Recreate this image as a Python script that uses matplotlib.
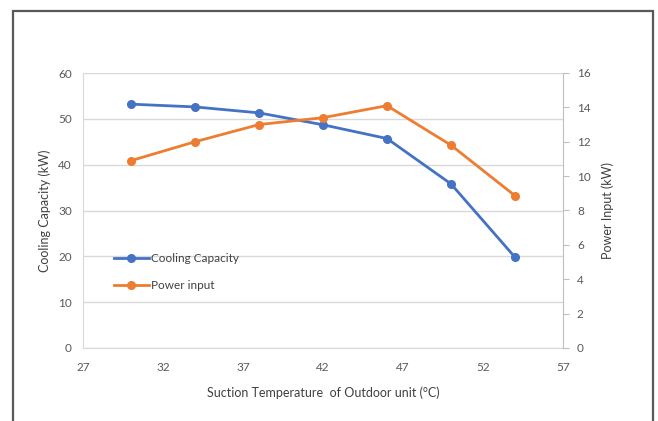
import matplotlib.pyplot as plt
from matplotlib.patches import Rectangle

temps = [30, 34, 38, 42, 46, 50, 54]
cooling_capacity = [53.2, 52.6, 51.3, 48.7, 45.7, 35.8, 19.8]
power_input = [10.9, 12.0, 13.0, 13.4, 14.1, 11.8, 8.86]

x_ticks = [27, 32, 37, 42, 47, 52, 57]
left_ticks = [0, 10, 20, 30, 40, 50, 60]
right_ticks = [0, 2, 4, 6, 8, 10, 12, 14, 16]

blue = "#4472C4"
orange = "#ED7D31"
grey_text = "#595959"
grid_col = "#D9D9D9"

plt.rcParams["font.family"] = ["Lato", "DejaVu Sans"]

fig = plt.figure(figsize=(6.58, 4.21), dpi=100)
ax = fig.add_axes([83 / 658, 1 - 348 / 421, 480 / 658, 275 / 421])
ax2 = ax.twinx()

l1, = ax.plot(temps, cooling_capacity, color=blue, lw=2, marker="o", ms=5.5,
              label="Cooling Capacity")
l2, = ax2.plot(temps, power_input, color=orange, lw=2, marker="o", ms=5.5,
               label="Power input")

ax.set_xlim(27, 57)
ax.set_ylim(0, 60)
ax2.set_ylim(0, 16)
ax.set_xticks(x_ticks)
ax.set_yticks(left_ticks)
ax2.set_yticks(right_ticks)

ax.grid(axis="y", color=grid_col, lw=1)
ax.set_axisbelow(True)

for s in ["top", "right"]:
    ax.spines[s].set_visible(False)
for s in ["top", "left", "bottom"]:
    ax2.spines[s].set_visible(False)
ax.spines["left"].set_color(grid_col)
ax.spines["bottom"].set_color(grid_col)
ax2.spines["right"].set_color("#BFBFBF")

ax.tick_params(axis="both", length=0, colors=grey_text, labelsize=8.5, pad=8)
ax.tick_params(axis="x", pad=10)
ax2.tick_params(axis="y", length=4, color="#BFBFBF", colors=grey_text,
                labelsize=8.5, pad=6)

ax.set_xlabel("Suction Temperature  of Outdoor unit (°C)", color="#404040",
              fontsize=9, labelpad=10)
ax.set_ylabel("Cooling Capacity (kW)", color="#404040", fontsize=9, labelpad=5)
ax2.set_ylabel("Power Input (kW)", color="#404040", fontsize=9, labelpad=8)

ax.legend(handles=[l1, l2], loc="upper left", bbox_to_anchor=(0.042, 0.385),
          frameon=False, fontsize=8.5, handlelength=3.0, handletextpad=0.15,
          labelspacing=1.4, labelcolor="#404040")

fig.patches.append(Rectangle((13 / 658, -0.02), 640 / 658, 1.02 - 11 / 421,
                             transform=fig.transFigure, fill=False,
                             edgecolor="#595959", lw=1.6))

fig.savefig("out.png", dpi=100)
